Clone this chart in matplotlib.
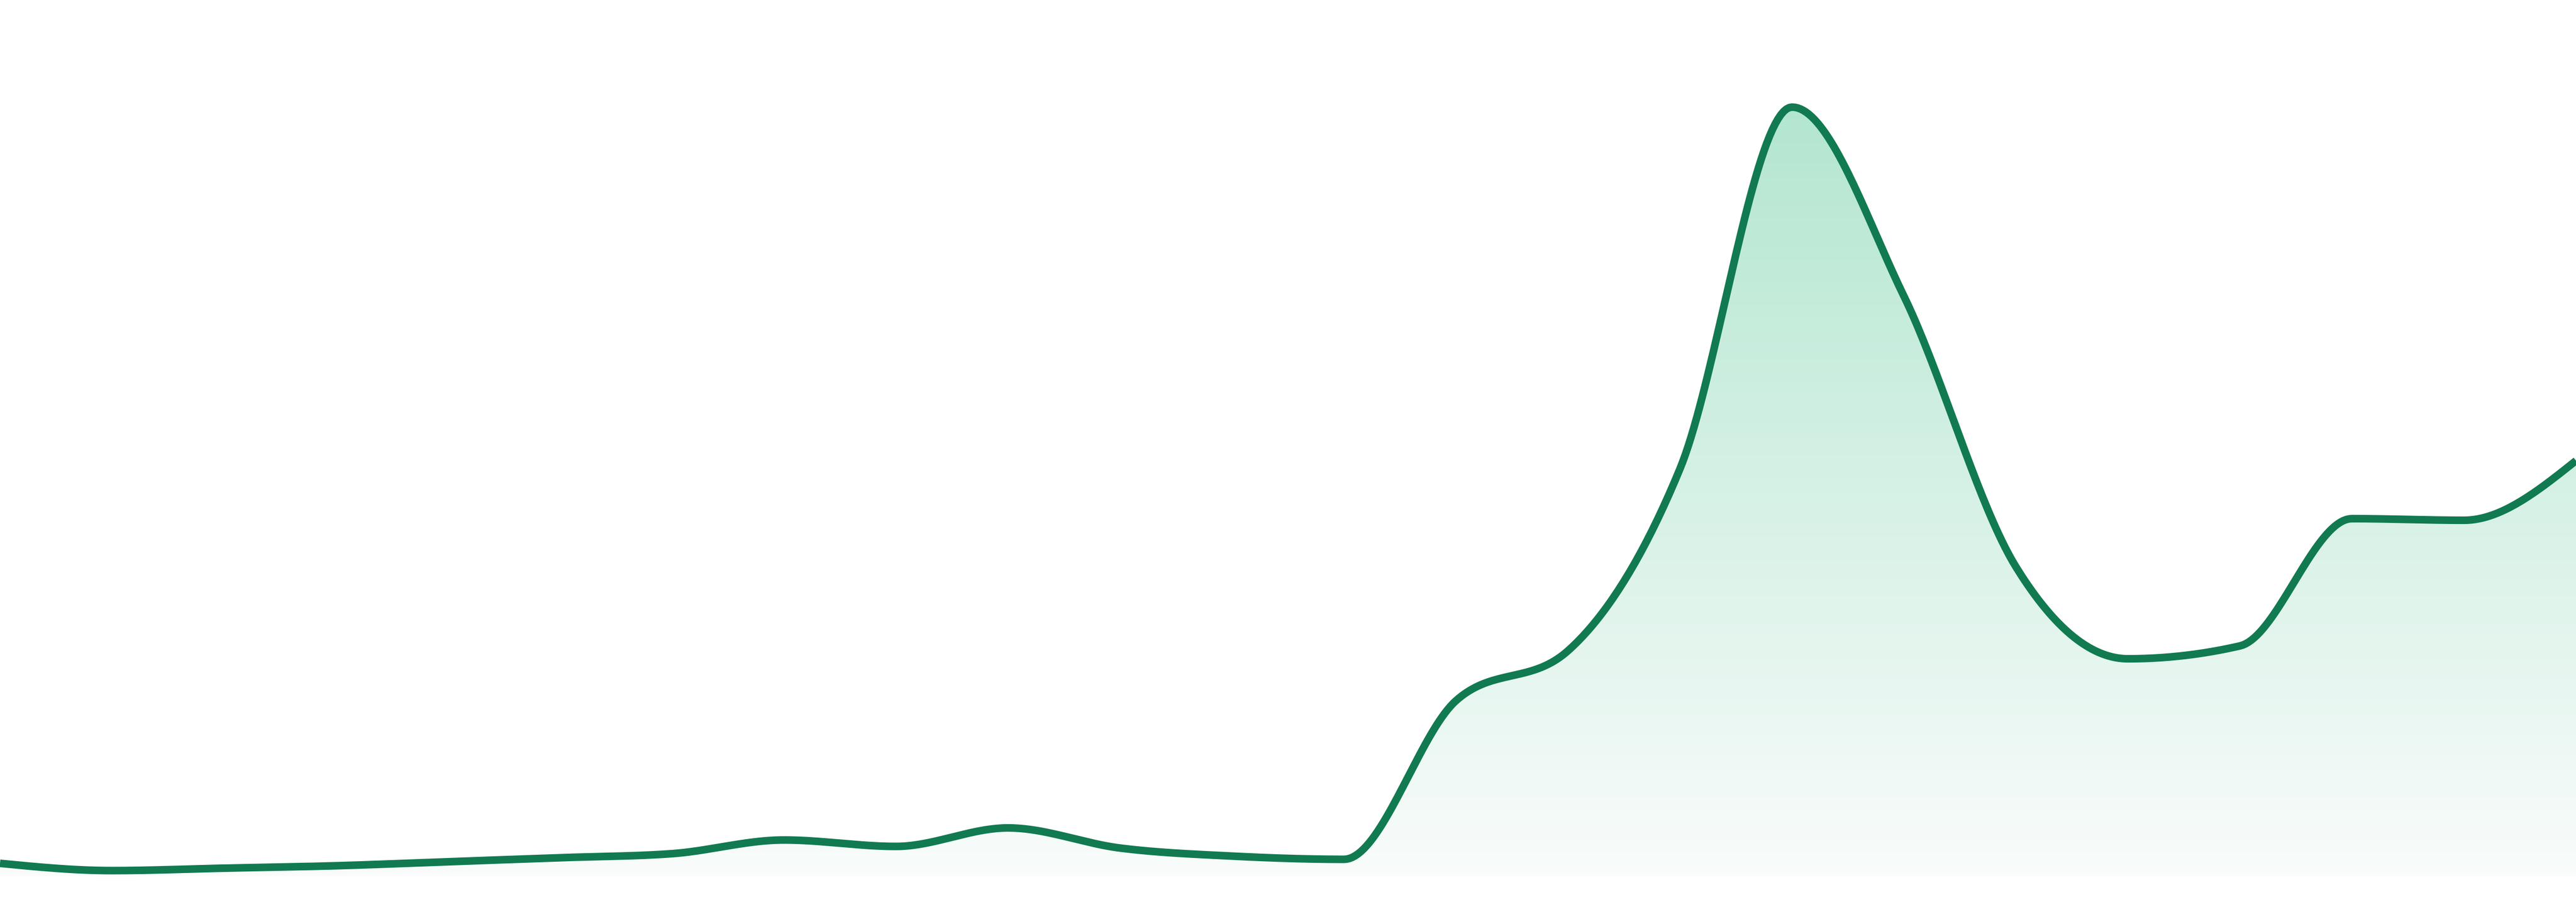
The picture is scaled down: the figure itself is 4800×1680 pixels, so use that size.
import numpy as np
import matplotlib
matplotlib.use("Agg")
import matplotlib.pyplot as plt
from matplotlib.colors import LinearSegmentedColormap

# series values (24 evenly spaced points)
values = [8, 3.5, 5, 6.5, 9, 11.5, 14, 22.5, 18.5, 30, 17.5, 12.5, 10.5,
          109, 140, 253, 477.5, 360, 192, 135, 143, 222, 221, 258]
line_color = "#117a51"
fill_top = "#b3e6d0"
fill_bottom = "#f9fcfb"


def monotone_x(xs, ys, n=40):
    # same idea as d3 curveMonotoneX
    xs = np.asarray(xs, float)
    ys = np.asarray(ys, float)
    h = np.diff(xs)
    s = np.diff(ys) / h
    t = np.zeros(len(xs))
    for i in range(1, len(xs) - 1):
        s0, s1 = s[i - 1], s[i]
        p = (s0 * h[i] + s1 * h[i - 1]) / (h[i - 1] + h[i])
        sg = (-1 if s0 < 0 else 1) + (-1 if s1 < 0 else 1)
        t[i] = sg * min(abs(s0), abs(s1), 0.5 * abs(p))
    t[0] = (3 * s[0] - t[1]) / 2
    t[-1] = (3 * s[-1] - t[-2]) / 2
    outx, outy = [], []
    for i in range(len(xs) - 1):
        dx = h[i] / 3
        p0 = (xs[i], ys[i])
        p1 = (xs[i] + dx, ys[i] + dx * t[i])
        p2 = (xs[i + 1] - dx, ys[i + 1] - dx * t[i + 1])
        p3 = (xs[i + 1], ys[i + 1])
        u = np.linspace(0, 1, n, endpoint=(i == len(xs) - 2))
        a = (1 - u) ** 3
        b = 3 * (1 - u) ** 2 * u
        c = 3 * (1 - u) * u ** 2
        d = u ** 3
        outx.append(a * p0[0] + b * p1[0] + c * p2[0] + d * p3[0])
        outy.append(a * p0[1] + b * p1[1] + c * p2[1] + d * p3[1])
    return np.concatenate(outx), np.concatenate(outy)


x = np.arange(len(values))
sx, sy = monotone_x(x, values)

fig = plt.figure(figsize=(16, 5.6), dpi=300)
ax = fig.add_axes([0, 0, 1, 1])
ax.set_xlim(0, len(values) - 1)
ax.set_ylim(-16, 544)
ax.axis("off")

# gradient fill under the line
poly = ax.fill_between(sx, sy, 0, color="none", lw=0)
cmap = LinearSegmentedColormap.from_list("g", [fill_bottom, fill_top])
grad = np.linspace(0, 1, 256).reshape(-1, 1)
img = ax.imshow(grad, cmap=cmap, aspect="auto", origin="lower",
                extent=[0, len(values) - 1, 0, max(values)], zorder=1)
img.set_clip_path(poly.get_paths()[0], transform=ax.transData)

ax.plot(sx, sy, color=line_color, lw=3.4, solid_capstyle="butt",
        solid_joinstyle="round", zorder=3)

ax.set_xlim(0, len(values) - 1)
ax.set_ylim(-16, 544)
fig.savefig("out.png", dpi=300, facecolor="white")
